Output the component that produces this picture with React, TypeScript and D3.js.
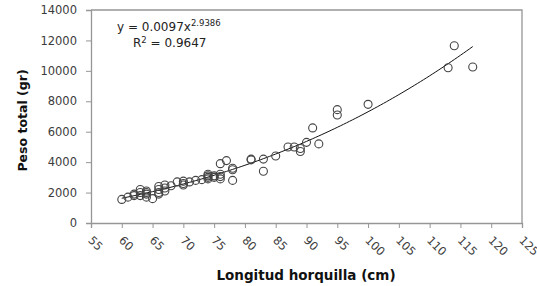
import { useEffect, useRef } from 'react';
import * as d3 from 'd3';

// Longitud horquilla (cm)
const lengths = [
  60, 61, 62, 62, 63, 63, 63, 64, 64, 64, 64, 65, 66, 66, 66, 66, 67, 67, 67, 68,
  69, 70, 70, 70, 71, 72, 73, 74, 74, 74, 74, 75, 75, 76, 76, 76, 76, 77, 78, 78,
  78, 81, 81, 83, 83, 85, 87, 88, 89, 89, 90, 91, 92, 95, 95, 100, 113, 114, 117,
];
// Peso total (gr)
const weights = [
  1550, 1700, 1900, 1800, 2200, 1800, 2000, 2000, 1900, 1700, 2100, 1600, 2000, 2400, 2200, 1900, 2500, 2100, 2300, 2450,
  2700, 2500, 2600, 2750, 2700, 2800, 2850, 2900, 3100, 3000, 3200, 3000, 3100, 3900, 3200, 2900, 3050, 4100, 3600, 3500,
  2800, 4200, 4150, 4200, 3400, 4400, 5000, 5000, 4700, 4900, 5300, 6250, 5200, 7450, 7100, 7800, 10200, 11650, 10250,
];

const xTicks = [55, 60, 65, 70, 75, 80, 85, 90, 95, 100, 105, 110, 115, 120, 125];
const yTicks = [0, 2000, 4000, 6000, 8000, 10000, 12000, 14000];

// power trendline y = a * x^b
const coefA = 0.0097;
const coefB = 2.9386;
const r2 = 0.9647;

const W = 537;
const H = 286;

export default function App() {
  const svgRef = useRef<SVGSVGElement>(null);

  useEffect(() => {
    if (!svgRef.current) return;
    d3.select(svgRef.current).selectAll('*').remove();

    const margin = { top: 10, right: 15, bottom: 63, left: 91 };
    const innerWidth = W - margin.left - margin.right;
    const innerHeight = H - margin.top - margin.bottom;

    const svg = d3.select(svgRef.current)
      .attr('width', W)
      .attr('height', H);

    const g = svg.append('g')
      .attr('transform', `translate(${margin.left},${margin.top})`);

    const x = d3.scaleLinear().domain([55, 125]).range([0, innerWidth]);
    const y = d3.scaleLinear().domain([0, 14000]).range([innerHeight, 0]);

    const axisColor = '#969696';
    const font = "'DejaVu Sans', sans-serif";
    const labelColor = '#3c3c3c';

    // plot frame (top + right)
    g.append('path')
      .attr('d', `M0,0H${innerWidth}V${innerHeight}`)
      .attr('fill', 'none')
      .attr('stroke', axisColor)
      .attr('stroke-width', 1.3);

    // Y axis
    const yAxis = g.append('g')
      .call(d3.axisLeft(y).tickValues(yTicks).tickSize(5).tickPadding(9).tickFormat(d3.format('d')));
    yAxis.select('.domain').attr('stroke', axisColor).attr('stroke-width', 1.3);
    yAxis.selectAll('.tick line').attr('stroke', axisColor);
    yAxis.selectAll('.tick text')
      .attr('fill', labelColor)
      .style('font-family', font)
      .style('font-size', '11.5px');

    // X axis
    const xAxis = g.append('g')
      .attr('transform', `translate(0,${innerHeight})`)
      .call(d3.axisBottom(x).tickValues(xTicks).tickSize(5).tickFormat(d3.format('d')));
    xAxis.select('.domain').attr('stroke', axisColor).attr('stroke-width', 1.3);
    xAxis.selectAll('.tick line').attr('stroke', axisColor);
    xAxis.selectAll('.tick text')
      .attr('fill', labelColor)
      .attr('y', 0)
      .attr('dy', 0)
      .attr('text-anchor', 'start')
      .attr('transform', 'translate(-4,18) rotate(45)')
      .style('font-family', font)
      .style('font-size', '11.5px');

    // trendline
    const curve = d3.range(60, 117.01, 0.5).map(v => [v, coefA * Math.pow(v, coefB)] as [number, number]);
    g.append('path')
      .datum(curve)
      .attr('fill', 'none')
      .attr('stroke', '#111')
      .attr('stroke-width', 1)
      .attr('d', d3.line<[number, number]>().x(d => x(d[0])).y(d => y(d[1])));

    // points
    g.append('g')
      .selectAll('circle')
      .data(lengths.map((l, i) => [l, weights[i]]))
      .join('circle')
      .attr('cx', d => x(d[0]))
      .attr('cy', d => y(d[1]))
      .attr('r', 4)
      .attr('fill', 'none')
      .attr('stroke', '#444')
      .attr('stroke-width', 1.1);

    // equation
    const eq = svg.append('text')
      .attr('x', 117)
      .attr('y', 31)
      .attr('fill', '#222')
      .style('font-family', font)
      .style('font-size', '12px');
    eq.append('tspan').text(`y = ${coefA}x`);
    eq.append('tspan').attr('dy', -5).style('font-size', '8.5px').text(`${coefB}`);

    const rt = svg.append('text')
      .attr('x', 133)
      .attr('y', 47)
      .attr('fill', '#222')
      .style('font-family', font)
      .style('font-size', '12px');
    rt.append('tspan').text('R');
    rt.append('tspan').attr('dy', -4).style('font-size', '8.5px').text('2');
    rt.append('tspan').attr('dy', 4).text(` = ${r2}`);

    // axis titles
    svg.append('text')
      .attr('transform', `translate(27,${margin.top + innerHeight / 2 + 4}) rotate(-90)`)
      .attr('text-anchor', 'middle')
      .attr('fill', '#111')
      .style('font-family', font)
      .style('font-weight', 'bold')
      .style('font-size', '12.5px')
      .text('Peso total (gr)');

    svg.append('text')
      .attr('x', 306)
      .attr('y', 280)
      .attr('text-anchor', 'middle')
      .attr('fill', '#111')
      .style('font-family', font)
      .style('font-weight', 'bold')
      .style('font-size', '13.5px')
      .text('Longitud horquilla (cm)');
  }, []);

  return (
    <svg ref={svgRef} style={{ position: 'absolute', left: 0, top: 0, background: '#fff' }} />
  );
}
